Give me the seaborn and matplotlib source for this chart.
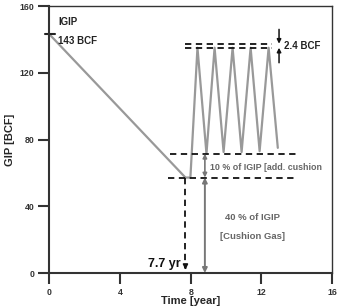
import matplotlib
matplotlib.use("Agg")
import matplotlib.pyplot as plt
import seaborn as sns
import pandas as pd

sns.set_style("ticks")
plt.rcParams['font.family'] = ['Liberation Sans', 'DejaVu Sans']

# data
time_yr = [0, 7.7, 7.98, 8.38, 8.89, 9.35, 9.86, 10.37, 10.88, 11.39, 11.9, 12.41, 12.93]
gip_bcf = [143, 57.2, 57.2, 135, 71.5, 135, 72.5, 135, 72.5, 135, 73, 135, 75]
x_ticks = [0, 4, 8, 12, 16]
y_ticks = [0, 40, 80, 120, 160]
igip = 143
cushion = 57.2
add_cushion = 71.5
top_hi, top_lo = 137.4, 135.0
t_end = 7.7

df = pd.DataFrame({"Time": time_yr, "GIP": gip_bcf})

fig = plt.figure(figsize=(3.42, 3.08), dpi=100)
ax = fig.add_axes([0.1447, 0.1136, 0.9708 - 0.1447, 0.9805 - 0.1136])

sns.lineplot(data=df, x="Time", y="GIP", ax=ax, color="#999999", lw=1.6, sort=False)

ax.set_xlim(0, 16)
ax.set_ylim(0, 160)
ax.set_xticks(x_ticks)
ax.set_yticks(y_ticks)
ax.set_xticklabels([str(v) for v in x_ticks], fontsize=6.3, fontweight="bold", color="#333333")
ax.set_yticklabels([str(v) for v in y_ticks], fontsize=6.3, fontweight="bold", color="#333333")
ax.tick_params(direction="out", length=8, width=1.5, color="#333333", pad=3)
for s in ax.spines.values():
    s.set_linewidth(1.5)
    s.set_color("#333333")
ax.spines["top"].set_linewidth(1.0)
ax.spines["right"].set_linewidth(1.0)

ax.set_xlabel("Time [year]", fontsize=8, fontweight="bold", labelpad=-1)
ax.set_ylabel("GIP [BCF]", fontsize=8, fontweight="bold", labelpad=3)

# IGIP marker tick
ax.plot([-0.25, 0.3], [igip, igip], color="#222222", lw=1.5, clip_on=False)
ax.text(0.5, 150.5, "IGIP", fontsize=7, fontweight="bold", color="#222222", va="center", ha="left")
ax.text(0.5, 139, "143 BCF", fontsize=7, fontweight="bold", color="#222222", va="center", ha="left")

dash = dict(color="#111111", lw=1.3, ls=(0, (3.5, 2.5)))
ax.plot([6.7, 14.0], [cushion, cushion], **dash)
ax.plot([6.8, 14.0], [add_cushion, add_cushion], **dash)
ax.plot([7.7, 12.6], [top_hi, top_hi], **dash)
ax.plot([7.7, 12.6], [top_lo, top_lo], **dash)

# vertical dashed at 7.7 with arrow
ax.plot([t_end, t_end], [cushion, 3], **dash)
ax.annotate("", xy=(t_end, 0.3), xytext=(t_end, 5),
            arrowprops=dict(arrowstyle="-|>", color="#111111", lw=1.2, mutation_scale=7))
ax.text(7.45, 5.5, "7.7 yr", fontsize=9, fontweight="bold", color="#111111", ha="right", va="center")

# cushion arrows
ax.annotate("", xy=(8.8, 0), xytext=(8.8, cushion),
            arrowprops=dict(arrowstyle="<|-|>", color="#777777", lw=1.4, mutation_scale=7,
                            shrinkA=0, shrinkB=0))
ax.annotate("", xy=(8.8, cushion), xytext=(8.8, add_cushion),
            arrowprops=dict(arrowstyle="<|-|>", color="#777777", lw=1.2, mutation_scale=6,
                            shrinkA=0, shrinkB=0))
ax.text(9.07, 63.5, "10 % of IGIP [add. cushion", fontsize=6.4, fontweight="bold",
        color="#666666", ha="left", va="center")
ax.text(11.5, 33, "40 % of IGIP", fontsize=6.8, fontweight="bold", color="#666666", ha="center", va="center")
ax.text(11.5, 22, "[Cushion Gas]", fontsize=6.8, fontweight="bold", color="#666666", ha="center", va="center")

# 2.4 BCF arrows
ax.annotate("", xy=(13.0, top_hi), xytext=(13.0, 146),
            arrowprops=dict(arrowstyle="-|>", color="#111111", lw=1.1, mutation_scale=6,
                            shrinkA=0, shrinkB=0))
ax.annotate("", xy=(13.0, top_lo), xytext=(13.0, 126),
            arrowprops=dict(arrowstyle="-|>", color="#111111", lw=1.1, mutation_scale=6,
                            shrinkA=0, shrinkB=0))
ax.text(13.3, 136.2, "2.4 BCF", fontsize=7, fontweight="bold", color="#222222", ha="left", va="center")

fig.savefig("out.png", dpi=100)
